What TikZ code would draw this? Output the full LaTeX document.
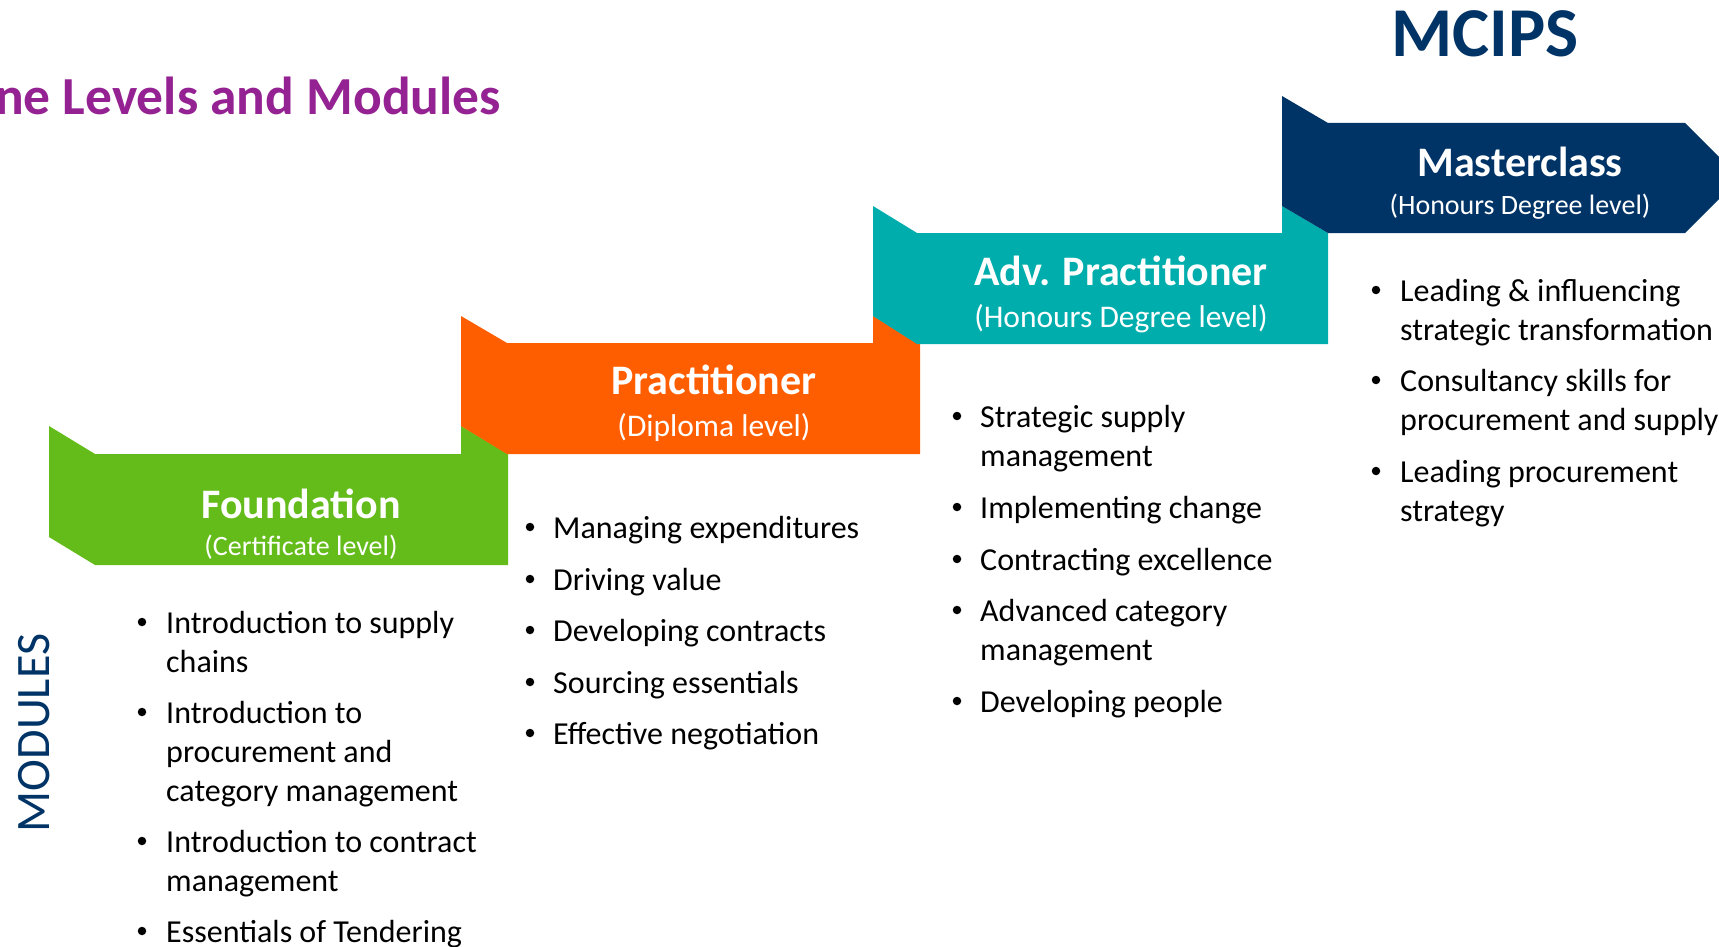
\documentclass[tikz,border=0pt]{standalone}
\usepackage{fontspec}
\setmainfont{Carlito}
\usepackage{tikz}
\usetikzlibrary{positioning}
\definecolor{cipsgreen}{RGB}{100,188,26}
\definecolor{cipsorange}{RGB}{255,94,0}
\definecolor{cipsteal}{RGB}{0,173,173}
\definecolor{cipsnavy}{RGB}{0,51,102}
\definecolor{cipspurple}{RGB}{149,34,146}
\tikzstyle{lvl}=[inner sep=0pt, anchor=base, text=white, font=\bfseries\fontsize{42}{50}\selectfont]
\tikzstyle{sublvl}=[inner sep=0pt, anchor=base, text=white, font=\fontsize{31.5}{38}\selectfont]
\tikzstyle{modline}=[inner sep=0pt, anchor=base west, font=\fontsize{32}{39}\selectfont]
\tikzstyle{bul}=[inner sep=0pt, circle, fill=black, minimum size=8.5pt]

\begin{document}
\begin{tikzpicture}[x=1pt, y=-1pt]
\useasboundingbox (0,0) rectangle (1719,947);
% ribbons, left to right
\fill[cipsgreen] (49,426) -- (95,454) -- (461,454) -- (461,426) -- (508,454) -- (508,565) -- (95,565) -- (49,537) -- cycle;
\fill[cipsorange] (461,316) -- (507,343) -- (873,343) -- (873,316) -- (920,343) -- (920,454) -- (507,454) -- (461,426) -- cycle;
\fill[cipsteal] (873,206) -- (917,233) -- (1282,233) -- (1282,206) -- (1328,233) -- (1328,344) -- (917,344) -- (873,316) -- cycle;
\fill[cipsnavy] (1282,96) -- (1328,123) -- (1685,123) -- (1740,178) -- (1685,233) -- (1328,233) -- (1282,206) -- cycle;
% headings
\node[inner sep=0pt, anchor=base east, text=cipspurple, font=\bfseries\fontsize{53.5}{62}\selectfont] (title) at (501,115) {ne Levels and Modules};
\node[inner sep=0pt, anchor=base, text=cipsnavy, font=\bfseries\fontsize{70}{80}\selectfont] (mcips) at (1485,57) {MCIPS};
\node[inner sep=0pt, rotate=90, text=cipsnavy, font=\fontsize{48}{55}\selectfont] (modules) at (34,733) {MODULES};
% level names
\node[lvl] (fnd) at (301,518) {Foundation};
\node[sublvl, font=\fontsize{28}{34}\selectfont] (fndsub) at (301,555) {(Certificate level)};
\node[lvl] (prc) at (714,394) {Practitioner};
\node[sublvl] (prcsub) at (714,436) {(Diploma level)};
\node[lvl] (adv) at (1121,285) {Adv. Practitioner};
\node[sublvl] (advsub) at (1121,327) {(Honours Degree level)};
\node[lvl] (mst) at (1520,176) {Masterclass};
\node[sublvl, font=\fontsize{28}{34}\selectfont] (mstsub) at (1520,214) {(Honours Degree level)};
% module lists
\foreach \yy/\bb/\tx [count=\i] in {633/1/Introduction to supply, 672/0/chains, 723/1/Introduction to, 762/0/procurement and, 801/0/category management, 852/1/Introduction to contract, 891/0/management, 942/1/Essentials of Tendering} {
  \node[modline] (fnd\i) at (166,\yy) {\tx};
  \ifnum\bb=1 \node[bul] (fndb\i) at (142,\yy-11) {}; \fi
}
\foreach \yy/\tx [count=\i] in {538/Managing expenditures, 590/Driving value, 641/Developing contracts, 693/Sourcing essentials, 744/Effective negotiation} {
  \node[modline] (prc\i) at (553,\yy) {\tx};
  \node[bul] (prcb\i) at (530,\yy-11) {};
}
\foreach \yy/\bb/\tx [count=\i] in {427/1/Strategic supply, 466/0/management, 518/1/Implementing change, 570/1/Contracting excellence, 621/1/Advanced category, 660/0/management, 712/1/Developing people} {
  \node[modline] (adv\i) at (980,\yy) {\tx};
  \ifnum\bb=1 \node[bul] (advb\i) at (957,\yy-11) {}; \fi
}
\foreach \yy/\bb/\tx [count=\i] in {301/1/Leading \& influencing, 340/0/strategic transformation, 391/1/Consultancy skills for, 430/0/procurement and supply, 482/1/Leading procurement, 521/0/strategy} {
  \node[modline] (mst\i) at (1400,\yy) {\tx};
  \ifnum\bb=1 \node[bul] (mstb\i) at (1376,\yy-11) {}; \fi
}
\end{tikzpicture}
\end{document}
